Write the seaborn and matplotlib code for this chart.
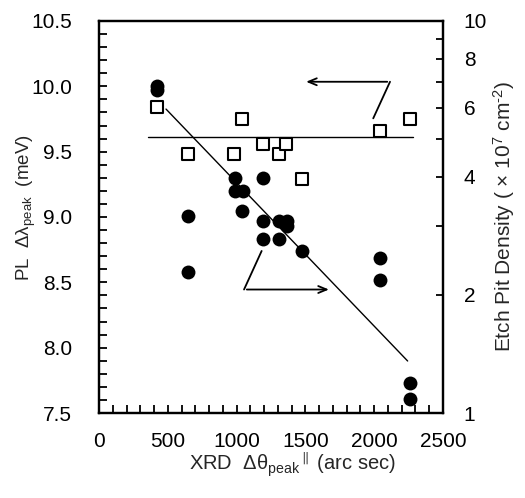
import matplotlib
matplotlib.use("Agg")
import matplotlib.pyplot as plt
import seaborn as sns
import pandas as pd
from matplotlib.ticker import MultipleLocator, FixedLocator, FixedFormatter, FormatStrFormatter

# ---- data ----
sq_x = [419, 645, 983, 1039, 1190, 1310, 1359, 1477, 2042, 2260]
sq_pl = [9.84, 9.48, 9.48, 9.75, 9.56, 9.48, 9.56, 9.29, 9.66, 9.75]

ci_x = [419, 419, 645, 645, 988, 988, 1044, 1039, 1190, 1190,
        1190, 1310, 1364, 1364, 1310, 1475, 2042, 2042, 2260, 2260]
ci_epd = [6.83, 6.67, 3.18, 2.29, 3.97, 3.69, 3.69, 3.28, 3.97, 3.08,
          2.78, 3.08, 3.08, 3.00, 2.78, 2.59, 2.49, 2.18, 1.19, 1.086]

flat_x = [358, 2280]
flat_y = [9.615, 9.615]
fit_x = [487, 2243]
fit_y = [9.826, 7.898]

right_ticks = [1, 2, 3, 4, 5, 6, 7, 8, 9, 10]
right_labels = ["1", "2", "", "4", "", "6", "", "8", "", "10"]

# ---- style ----
sns.set_style("ticks")
plt.rcParams["font.family"] = ["Liberation Sans", "DejaVu Sans"]
plt.rcParams["mathtext.fontset"] = "custom"
plt.rcParams["mathtext.rm"] = "Liberation Sans"
plt.rcParams["mathtext.it"] = "Liberation Sans:italic"
plt.rcParams["mathtext.default"] = "regular"

fig = plt.figure(figsize=(5.25, 4.98), dpi=100)
ax = fig.add_axes([99 / 525, 1 - 413 / 498, 344 / 525, 392 / 498])
ax2 = ax.twinx()

df_sq = pd.DataFrame({"x": sq_x, "y": sq_pl})
df_ci = pd.DataFrame({"x": ci_x, "y": ci_epd})

sns.scatterplot(data=df_sq, x="x", y="y", ax=ax, marker="s", s=80,
                facecolor="white", edgecolor="black", linewidth=1.5, zorder=3)
sns.lineplot(x=flat_x, y=flat_y, ax=ax, color="black", linewidth=1.0, zorder=2)
sns.lineplot(x=fit_x, y=fit_y, ax=ax, color="black", linewidth=1.0, zorder=2)

sns.scatterplot(data=df_ci, x="x", y="y", ax=ax2, marker="o", s=100,
                color="black", edgecolor="black", linewidth=0, zorder=3)

# arrows
arrow_kw = dict(arrowstyle="->,head_length=0.6,head_width=0.25", color="black", lw=1.3)
ax.plot([1993, 2115], [9.755, 10.035], color="black", lw=1.3)
ax.annotate("", xy=(1485, 10.035), xytext=(2115, 10.035), arrowprops=arrow_kw)
ax.plot([1182, 1054], [8.74, 8.445], color="black", lw=1.3)
ax.annotate("", xy=(1691, 8.445), xytext=(1054, 8.445), arrowprops=arrow_kw)

# axes
ax.set_xlim(0, 2500)
ax.set_ylim(7.5, 10.5)
ax.xaxis.set_major_locator(MultipleLocator(500))
ax.xaxis.set_minor_locator(MultipleLocator(100))
ax.yaxis.set_major_locator(MultipleLocator(0.5))
ax.yaxis.set_minor_locator(MultipleLocator(0.1))
ax.yaxis.set_major_formatter(FormatStrFormatter("%.1f"))

ax2.set_yscale("log")
ax2.set_ylim(1, 10)
ax2.yaxis.set_major_locator(FixedLocator(right_ticks))
ax2.yaxis.set_major_formatter(FixedFormatter(right_labels))
ax2.yaxis.set_minor_locator(FixedLocator([]))

for a in (ax, ax2):
    for s in a.spines.values():
        s.set_linewidth(1.6)
        s.set_color("black")

ax.tick_params(axis="both", which="both", direction="in", width=1.3,
               labelsize=15, colors="black", length=5.5)
ax.tick_params(axis="y", pad=19.5)
ax.tick_params(axis="x", pad=14)
ax.tick_params(top=False, right=False, which="both")
ax2.tick_params(axis="y", which="both", direction="in", length=5, width=1.3,
                labelsize=15, pad=15, colors="black")

ax.set_xlabel("XRD  Δθ$_{peak}$$^{\\parallel}$ (arc sec)", fontsize=14.5)
ax.xaxis.set_label_coords(0.561, -0.095)
ax.set_ylabel("PL  Δλ$_{peak}$  (meV)", fontsize=13.5)
ax.yaxis.set_label_coords(-0.178, 0.525)
ax2.set_ylabel("Etch Pit Density ( × 10$^{7}$ cm$^{\u20102}$)", fontsize=15, labelpad=3)

fig.savefig("out.png", dpi=100)
